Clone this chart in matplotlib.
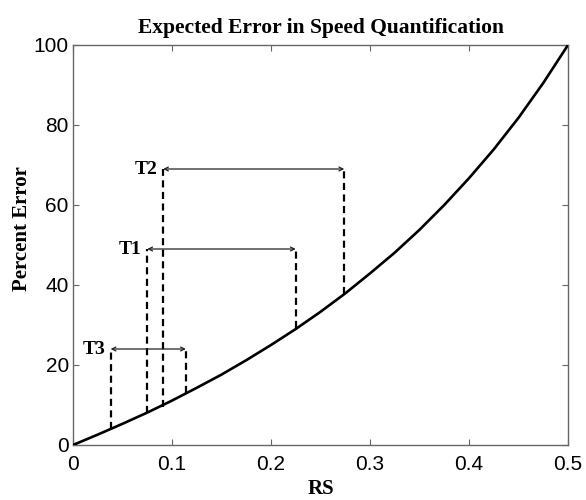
import matplotlib
matplotlib.use('Agg')
import matplotlib.pyplot as plt

# curve
rs = [0, 0.025, 0.05, 0.075, 0.1, 0.125, 0.15, 0.175, 0.2, 0.225, 0.25,
      0.275, 0.3, 0.325, 0.35, 0.375, 0.4, 0.425, 0.45, 0.475, 0.5]
pct_err = [0, 2.6, 5.3, 8.1, 11.1, 14.3, 17.6, 21.2, 25.0, 29.0, 33.3,
           37.9, 42.9, 48.1, 53.8, 60.0, 66.7, 73.9, 81.8, 90.5, 100]

# range markers T1..T3
t_names = ['T1', 'T2', 'T3']
t_left = [0.075, 0.091, 0.038]
t_right = [0.225, 0.274, 0.114]
t_top = [49, 69, 24]
t_left_low = [7.9, 9.6, 3.9]
t_right_low = [29.2, 37.7, 12.9]

xticks = [0, 0.1, 0.2, 0.3, 0.4, 0.5]
xticklabels = ['0', '0.1', '0.2', '0.3', '0.4', '0.5']
yticks = [0, 20, 40, 60, 80, 100]

serif = 'Liberation Serif'
sans = 'Liberation Sans'
axcol = '#666666'

fig = plt.figure(figsize=(5.86, 5.0), dpi=100)
ax = fig.add_axes([73/586, 55/500, 495/586, 400/500])

ax.plot(rs, pct_err, color='black', lw=1.9, zorder=3)

for i in range(len(t_names)):
    ax.plot([t_left[i], t_left[i]], [t_left_low[i], t_top[i]], color='black',
            lw=1.6, dashes=(3.2, 2.0))
    ax.plot([t_right[i], t_right[i]], [t_right_low[i], t_top[i]], color='black',
            lw=1.6, dashes=(3.2, 2.0))
    ax.annotate('', xy=(t_right[i], t_top[i]), xytext=(t_left[i], t_top[i]),
                arrowprops=dict(arrowstyle='<->', color='#222222', lw=0.9,
                                mutation_scale=7, shrinkA=0, shrinkB=0))
    ax.annotate(t_names[i], xy=(t_left[i], t_top[i]), xytext=(-4, 0),
                textcoords='offset points', ha='right', va='center',
                fontsize=14, fontweight='bold', family=serif)

ax.set_xlim(0, 0.5)
ax.set_ylim(0, 100)
ax.set_xticks(xticks)
ax.set_xticklabels(xticklabels)
ax.set_yticks(yticks)
for lab in ax.get_xticklabels() + ax.get_yticklabels():
    lab.set_family(sans)
    lab.set_fontsize(15)
ax.tick_params(direction='in', length=4, width=0.8, color=axcol,
               top=True, right=True)
ax.tick_params(axis='x', pad=7)
ax.tick_params(axis='y', pad=3)
for s in ax.spines.values():
    s.set_color(axcol)
    s.set_linewidth(1.0)

ax.set_title('Expected Error in Speed Quantification', family=serif,
             fontweight='bold', fontsize=15.5, pad=9)
ax.set_xlabel('RS', family=serif, fontweight='bold', fontsize=15)
ax.set_ylabel('Percent Error', family=serif, fontweight='bold', fontsize=15)
ax.xaxis.set_label_coords(0.5, -0.085)
ax.yaxis.set_label_coords(-0.083, 0.54)

fig.savefig('out.png', dpi=100)
